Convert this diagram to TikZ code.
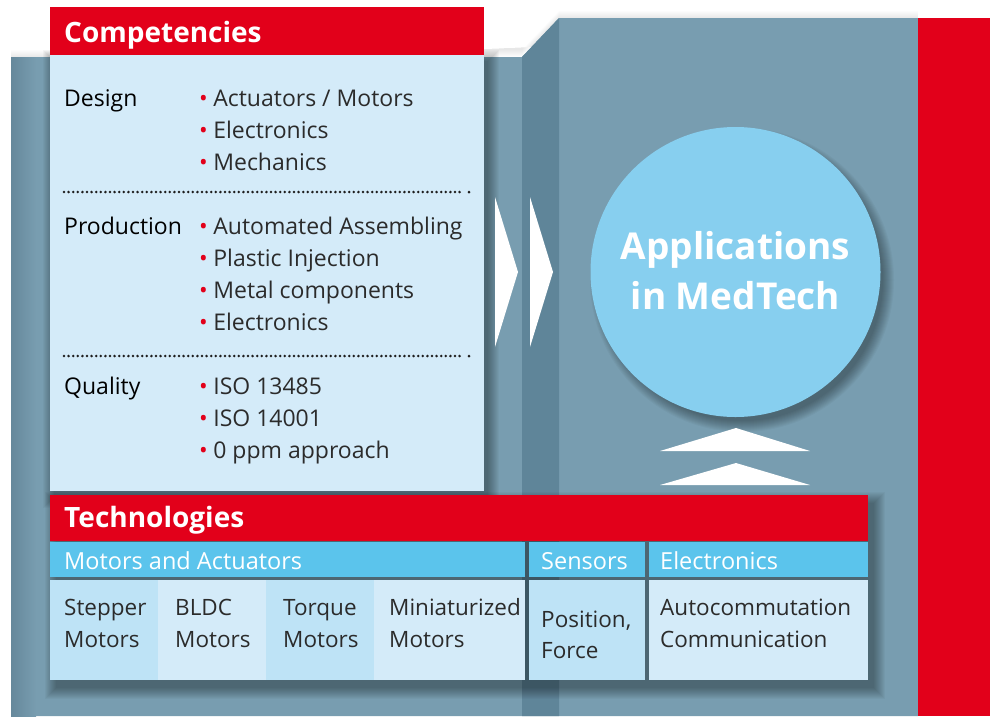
\documentclass[tikz,border=0pt]{standalone}
\usepackage{fontspec}
\setmainfont{Open Sans}
\definecolor{cred}{HTML}{E2001A}
\definecolor{slab}{HTML}{789DB0}
\definecolor{slabband}{HTML}{5F8599}
\definecolor{slabedge}{HTML}{66889B}
\definecolor{lightbox}{HTML}{D4EBF9}
\definecolor{cellalt}{HTML}{BEE3F6}
\definecolor{subhead}{HTML}{5BC4EC}
\definecolor{circ}{HTML}{87CFEF}
\definecolor{ink}{HTML}{1E1E1E}
\definecolor{inklight}{HTML}{2B2B2B}
\tikzset{
  txt/.style={inner sep=0pt, anchor=base west, text=inklight, font=\fontsize{23}{27}\selectfont},
  celltxt/.style={inner sep=0pt, anchor=base west, text=inklight, font=\fontsize{22.5}{27}\selectfont},
  lbl/.style={inner sep=0pt, anchor=base west, text=black, font=\fontsize{23}{27}\selectfont},
  headtxt/.style={inner sep=0pt, anchor=base west, text=white, font=\bfseries\fontsize{28}{32}\selectfont},
  subtxt/.style={inner sep=0pt, anchor=base west, text=white, font=\fontsize{23.5}{27}\selectfont},
  circtxt/.style={inner sep=0pt, anchor=base, text=white, font=\bfseries\fontsize{37}{40}\selectfont},
  chev/.style={fill=white},
  dots/.style={line width=2.8pt, dash pattern=on 0pt off 4.6pt, line cap=round, draw=ink},
  shadowfill/.style={fill=black, fill opacity=0.03},
}
\newcommand{\bul}{{\color{cred}\textbullet}\kern5.5pt}
\newcommand{\softrect}[6]{%
  \foreach \k in {0,...,11}{\fill[shadowfill] ({#1+#5-\k},{#2+#6-\k}) rectangle ({#3+#5+\k},{#4+#6+\k});}}
\begin{document}
\begin{tikzpicture}[x=1pt,y=-1pt]
\useasboundingbox (0,0) rectangle (990,716);
\fill[white] (0,0) rectangle (990,716);
% faint shadow above slab top
\foreach \k in {0,...,7}{\fill[black, fill opacity=0.01] (11,{57-\k}) -- (522,{57-\k}) -- (559,{18-\k}) -- (918,{18-\k}) -- (918,30) -- (11,70) -- cycle;}
% slab
\fill[slab] (11,57) -- (522,57) -- (559,18) -- (918,18) -- (918,716) -- (11,716) -- cycle;
\shade[left color=slabedge, right color=slab] (11,57) rectangle (36,716);
\fill[slabband] (522,57) -- (559,18) -- (559,716) -- (522,716) -- cycle;
\fill[cred] (918,18) rectangle (990,716);
% light competencies box
\softrect{50}{55}{484}{491}{4}{6}
\fill[lightbox] (50,55) rectangle (484,491);
\fill[cred] (50,7) rectangle (484,55);
\node[headtxt] (comp) at (64,42) {Competencies};
% Design
\node[lbl] (design) at (64,106) {Design};
\node[txt] (d1) at (199,106) {\bul Actuators / Motors};
\node[txt] (d2) at (199,138) {\bul Electronics};
\node[txt] (d3) at (199,170) {\bul Mechanics};
\draw[dots] (64,192) -- (461,192);
\fill[ink] (469,192) circle (1.5);
% Production
\node[lbl] (prod) at (64,234) {Production};
\node[txt] (p1) at (199,234) {\bul Automated Assembling};
\node[txt] (p2) at (199,266) {\bul Plastic Injection};
\node[txt] (p3) at (199,298) {\bul Metal components};
\node[txt] (p4) at (199,330) {\bul Electronics};
\draw[dots] (64,356) -- (461,356);
\fill[ink] (469,356) circle (1.5);
% Quality
\node[lbl] (qual) at (64,394) {Quality};
\node[txt] (q1) at (199,394) {\bul ISO 13485};
\node[txt] (q2) at (199,426) {\bul ISO 14001};
\node[txt] (q3) at (199,458) {\bul 0 ppm approach};
% chevrons
\fill[chev] (495,197) -- (518,272) -- (495,347) -- cycle;
\fill[chev] (530,197) -- (553,272) -- (530,347) -- cycle;
% circle
\foreach \k in {0,...,11}{\fill[shadowfill] (742,280) circle ({145+\k-4});}
\fill[circ] (735.5,272) circle (145);
\node[circtxt] (app1) at (735.5,259) {Applications};
\node[circtxt] (app2) at (735.5,309) {in MedTech};
% up arrows
\fill[chev] (660,451) -- (736,428) -- (810,451) -- cycle;
\fill[chev] (660,485) -- (736,463) -- (810,485) -- cycle;
% technologies table
\softrect{50}{495}{868}{680}{6}{8}
\fill[cred] (50,495) rectangle (868,541);
\node[headtxt] (tech) at (64,527) {Technologies};
\fill[subhead] (50,542) rectangle (525,577);
\fill[subhead] (529,542) rectangle (645,577);
\fill[subhead] (649,542) rectangle (868,577);
\node[subtxt] (hmot) at (64,569) {Motors and Actuators};
\node[subtxt] (hsen) at (541,569) {Sensors};
\node[subtxt] (hele) at (660,569) {Electronics};
\fill[cellalt] (50,580) rectangle (158,680);
\fill[lightbox] (158,580) rectangle (266,680);
\fill[cellalt] (266,580) rectangle (374,680);
\fill[lightbox] (374,580) rectangle (525,680);
\fill[cellalt] (529,580) rectangle (645,680);
\fill[lightbox] (649,580) rectangle (868,680);
\node[celltxt] (c1a) at (64,615) {Stepper};
\node[celltxt] (c1b) at (64,647) {Motors};
\node[celltxt] (c2a) at (175,615) {BLDC};
\node[celltxt] (c2b) at (175,647) {Motors};
\node[celltxt] (c3a) at (283,615) {Torque};
\node[celltxt] (c3b) at (283,647) {Motors};
\node[celltxt] (c4a) at (389,615) {Miniaturized};
\node[celltxt] (c4b) at (389,647) {Motors};
\node[celltxt] (s1) at (541,627) {Position,};
\node[celltxt] (s2) at (541,658) {Force};
\node[celltxt] (e1) at (660,615) {Autocommutation};
\node[celltxt] (e2) at (660,647) {Communication};
\end{tikzpicture}
\end{document}
